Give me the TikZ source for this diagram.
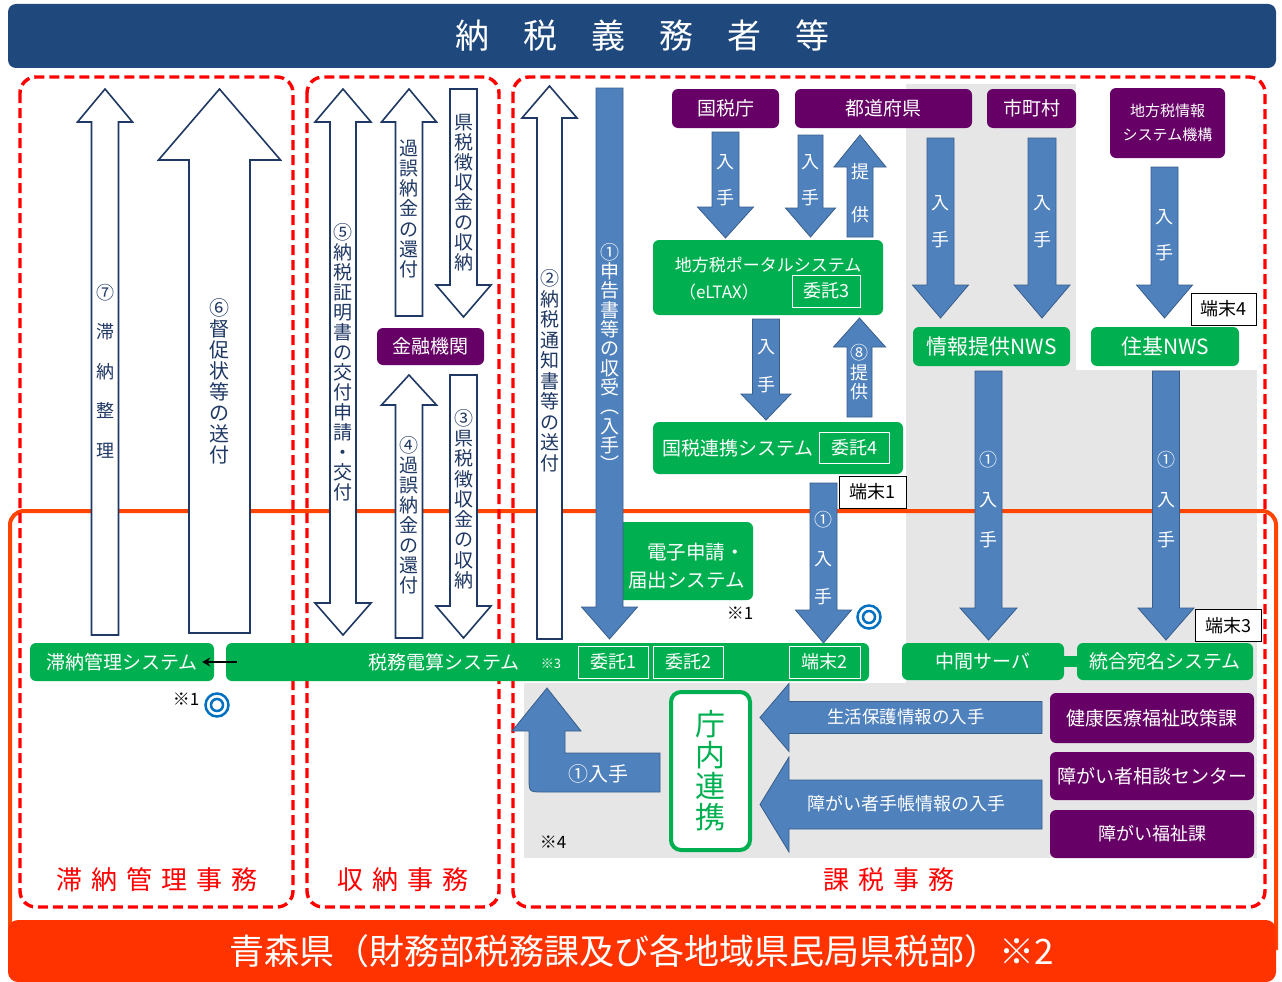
\documentclass[tikz,border=0pt]{standalone}
\usepackage{fontspec}
\setmainfont{Noto Sans CJK JP}
\usetikzlibrary{arrows.meta}

\definecolor{navybar}{RGB}{31,73,125}
\definecolor{navyline}{RGB}{31,56,100}
\definecolor{redarea}{RGB}{255,0,0}
\definecolor{frameorange}{RGB}{255,69,0}
\definecolor{bannerorange}{RGB}{255,51,0}
\definecolor{boxgreen}{RGB}{0,176,80}
\definecolor{boxpurple}{RGB}{102,0,102}
\definecolor{arrblue}{RGB}{79,129,189}
\definecolor{arrline}{RGB}{56,93,138}
\definecolor{panelgray}{RGB}{230,230,230}
\definecolor{markblue}{RGB}{0,112,192}

\newcommand{\fsz}[2]{\fontsize{#1}{#2}\selectfont\lineskiplimit=-50pt\relax}
% block arrows, pixel coordinates: {cx}{shaft half}{head half}{...}
\newcommand{\blockup}[7][]{%
  \draw[#1] (#2-#3,#7) -- (#2-#3,#6) -- (#2-#4,#6) -- (#2,#5) -- (#2+#4,#6) -- (#2+#3,#6) -- (#2+#3,#7) -- cycle;}
\newcommand{\blockdown}[7][]{%
  \draw[#1] (#2-#3,#5) -- (#2-#3,#6) -- (#2-#4,#6) -- (#2,#7) -- (#2+#4,#6) -- (#2+#3,#6) -- (#2+#3,#5) -- cycle;}
\newcommand{\blockboth}[8][]{%
  \draw[#1] (#2-#3,#6) -- (#2-#4,#6) -- (#2,#5) -- (#2+#4,#6) -- (#2+#3,#6) -- (#2+#3,#7) -- (#2+#4,#7) -- (#2,#8) -- (#2-#4,#7) -- (#2-#3,#7) -- cycle;}
\newcommand{\blockleft}[7][]{%
  \draw[#1] (#2,#3) -- (#5,#3-#6) -- (#5,#3-#4) -- (#7,#3-#4) -- (#7,#3+#4) -- (#5,#3+#4) -- (#5,#3+#6) -- cycle;}

\begin{document}
\begin{tikzpicture}[x=1pt,y=-1pt,
    workarea/.style={draw=redarea, line width=3.4pt, dash pattern=on 10pt off 5pt, rounded corners=16pt},
    areaname/.style={text=redarea, font=\fsz{26}{30}, inner sep=0pt},
    whitearr/.style={fill=white, draw=navyline, line width=1.6pt},
    bluearr/.style={fill=arrblue, draw=arrline, line width=0.8pt},
    greenbox/.style={fill=boxgreen, rounded corners=6pt, text=white, minimum height=38pt, font=\fsz{19}{24}, inner sep=0pt},
    purplebox/.style={fill=boxpurple, rounded corners=6pt, text=white, minimum height=39pt, font=\fsz{19}{24}, inner sep=0pt},
    subbox/.style={draw=white, line width=0.7pt, text=white, minimum width=70pt, minimum height=32pt, font=\fsz{18}{22}, inner sep=0pt},
    tagbox/.style={draw=black, line width=0.6pt, fill=white, minimum width=66pt, minimum height=32pt, font=\fsz{18}{22}, inner sep=0pt},
    vnavy/.style={text=navyline, align=center, inner sep=0pt},
    vwhite/.style={text=white, align=center, inner sep=0pt},
    plain/.style={text=white, inner sep=0pt},
    note/.style={font=\fsz{17}{19}, inner sep=0pt},
    ring/.style={draw=markblue, line width=2.5pt}]
  \useasboundingbox (0,0) rectangle (1282,982);
  \fill[white] (0,0) rectangle (1282,982);
  %
  \fill[panelgray] (906,84) rectangle (1076,683);
  \fill[panelgray] (1076,370) rectangle (1257,683);
  \fill[panelgray] (524,683) rectangle (1257,858);
  \draw[frameorange, line width=4pt, rounded corners=14pt] (10,950) -- (10,511) -- (1276,511) -- (1276,950);
  %
  \draw[workarea] (20,77) rectangle (293,907);
  \draw[workarea] (307,77) rectangle (499,907);
  \draw[workarea] (513,77) rectangle (1265,907);
  \node[areaname] (arrearswork) at (157,880) {滞\hspace{9pt}納\hspace{9pt}管\hspace{9pt}理\hspace{9pt}事\hspace{9pt}務};
  \node[areaname] (receiptwork) at (403,880) {収\hspace{9pt}納\hspace{9pt}事\hspace{9pt}務};
  \node[areaname] (assesswork) at (889,880) {課\hspace{9pt}税\hspace{9pt}事\hspace{9pt}務};
  %
  \node[fill=navybar, rounded corners=8pt, minimum width=1268pt, minimum height=64pt, text=white, font=\fsz{34}{38}, inner sep=0pt] (payers) at (642,36) {納\quad 税\quad 義\quad 務\quad 者\quad 等};
  \node[fill=bannerorange, rounded corners=10pt, minimum width=1268pt, minimum height=62pt, text=white, font=\fsz{35}{40}, inner sep=0pt] (aomori) at (642,951) {青森県（財務部税務課及び各地域県民局県税部）※2};
  %
  % white arrows
  \blockup[whitearr]{105}{13.5}{27.5}{89}{122}{635}
  \blockup[whitearr]{219.5}{30.5}{61}{89}{160}{633}
  \blockboth[whitearr]{343}{13}{28}{89}{122}{603}{635}
  \blockup[whitearr]{409}{13.5}{27.5}{89}{122}{316}
  \blockdown[whitearr]{463.5}{13.5}{27.5}{89}{285}{317}
  \blockup[whitearr]{409}{13.5}{27.5}{375}{405}{638}
  \blockdown[whitearr]{463.5}{13.5}{27.5}{375}{606}{638}
  \blockup[whitearr]{549.5}{12.5}{27.5}{86}{118}{639}
  \node[vnavy, font=\fsz{18}{39.5}] (t7) at (105,371) {⑦\\滞\\納\\整\\理};
  \node[vnavy, font=\fsz{20}{21}] (t6) at (219.5,381.5) {⑥\\督\\促\\状\\等\\の\\送\\付};
  \node[vnavy, font=\fsz{19}{20}] (t5) at (343,362.5) {⑤\\納\\税\\証\\明\\書\\の\\交\\付\\申\\請\\・\\交\\付};
  \node[vnavy, font=\fsz{19}{20.3}] (trefund) at (409,209) {過\\誤\\納\\金\\の\\還\\付};
  \node[vnavy, font=\fsz{19}{20}] (tcollect) at (463.5,193) {県\\税\\徴\\収\\金\\の\\収\\納};
  \node[vnavy, font=\fsz{19}{20}] (t4) at (409,515) {④\\過\\誤\\納\\金\\の\\還\\付};
  \node[vnavy, font=\fsz{19}{20.25}] (t3) at (463.5,499) {③\\県\\税\\徴\\収\\金\\の\\収\\納};
  \node[vnavy, font=\fsz{19}{20.5}] (t2) at (549.5,370.5) {②\\納\\税\\通\\知\\書\\等\\の\\送\\付};
  %
  \node[purplebox, minimum width=107pt, minimum height=37pt] (bank) at (430.5,346.5) {金融機関};
  %
  % e-application box sits under arrow 1
  \node[greenbox, minimum width=138pt, minimum height=78pt] (eapp) at (684,561) {};
  \node[plain, align=right, font=\fsz{19.5}{28}, anchor=east] (eappname) at (745,566) {電子申請・\\届出システム};
  %
  % blue arrows
  \blockdown[bluearr]{609.5}{13.5}{28}{88}{607}{639}
  \blockdown[bluearr]{725.5}{13.5}{28}{132}{207}{238}
  \blockdown[bluearr]{810.5}{12.5}{25}{135}{208}{237}
  \blockup[bluearr]{860}{13}{26}{135}{167}{237}
  \blockdown[bluearr]{766}{13.5}{25}{319}{394}{420}
  \blockup[bluearr]{859.5}{12.5}{26}{318}{347}{417}
  \blockdown[bluearr]{823.5}{13.5}{28}{483}{610}{643}
  \blockdown[bluearr]{940.5}{13.5}{28}{138}{285}{318}
  \blockdown[bluearr]{1042}{14}{28}{138}{285}{318}
  \blockdown[bluearr]{1164.5}{13.5}{28}{167}{285}{318}
  \blockdown[bluearr]{988.5}{13.5}{28.5}{371}{608}{640}
  \blockdown[bluearr]{1166}{13.5}{28}{371}{608}{640}
  \blockleft[bluearr]{760}{717.5}{16}{789}{34}{1042}
  \blockleft[bluearr]{760}{804.5}{24.5}{789}{47.5}{1042}
  \draw[bluearr] (660,753) -- (565,753) -- (565,731) -- (581,731) -- (547,688) -- (512,731) -- (529,731)
    -- (529,778) .. controls (529,792) .. (543,792) -- (660,792) -- cycle;
  \node[vwhite, font=\fsz{19}{19.3}] (t1) at (609.5,357.5) {①\\申\\告\\書\\等\\の\\収\\受\\︵\\入\\手\\︶};
  \node[vwhite, font=\fsz{18}{36}] (getnta) at (725.5,180) {入\\手};
  \node[vwhite, font=\fsz{18}{36}] (getpref) at (810.5,180) {入\\手};
  \node[vwhite, font=\fsz{18}{43}] (givepref) at (860,193.5) {提\\供};
  \node[vwhite, font=\fsz{18}{38}] (getportal) at (766,366) {入\\手};
  \node[vwhite, font=\fsz{18}{19.5}] (give8) at (859.5,372.5) {⑧\\提\\供};
  \node[vwhite, font=\fsz{18}{38.5}] (getnfl) at (823.5,558.5) {①\\入\\手};
  \node[vwhite, font=\fsz{18}{37}] (getpref2) at (940.5,221.5) {入\\手};
  \node[vwhite, font=\fsz{18}{37}] (getmuni) at (1042,221.5) {入\\手};
  \node[vwhite, font=\fsz{18}{36}] (getjlis) at (1164.5,235) {入\\手};
  \node[vwhite, font=\fsz{18}{40}] (getnws) at (988.5,500) {①\\入\\手};
  \node[vwhite, font=\fsz{18}{40}] (getjuki) at (1166,500) {①\\入\\手};
  \node[plain, font=\fsz{20}{24}] (getone) at (598,774) {①入手};
  \node[plain, font=\fsz{17.5}{20}] (welfare) at (906,717) {生活保護情報の入手};
  \node[plain, font=\fsz{18}{20}] (handbook) at (906,804) {障がい者手帳情報の入手};
  %
  % senders
  \node[purplebox, minimum width=107pt] (nta) at (725.5,108.5) {国税庁};
  \node[purplebox, minimum width=177pt] (pref) at (883.5,108.5) {都道府県};
  \node[purplebox, minimum width=89pt] (muni) at (1031.5,108.5) {市町村};
  \node[purplebox, minimum width=115pt, minimum height=70pt, align=center, font=\fsz{15}{24}] (jlis) at (1167.5,123) {地方税情報\\システム機構};
  \node[purplebox, minimum width=204pt, minimum height=50pt] (health) at (1152,718) {健康医療福祉政策課};
  \node[purplebox, minimum width=204pt, minimum height=48pt] (consult) at (1152,776) {障がい者相談センター};
  \node[purplebox, minimum width=204pt, minimum height=48pt, font=\fsz{18}{22}] (disab) at (1152,834) {障がい福祉課};
  %
  % systems
  \node[greenbox, minimum width=230pt, minimum height=75pt] (eltax) at (768,277.5) {};
  \node[plain, font=\fsz{17}{20}] (eltaxname) at (768,265) {地方税ポータルシステム};
  \node[plain, font=\fsz{17}{20}] (eltaxabbr) at (719,292) {（eLTAX）};
  \node[subbox, minimum width=68pt] (itaku3) at (826,291) {委託3};
  \node[greenbox, minimum width=250pt, minimum height=52pt] (nfl) at (778,448) {};
  \node[plain, font=\fsz{19}{22}] (nflname) at (738,448) {国税連携システム};
  \node[subbox, minimum height=31pt] (itaku4) at (854,447.5) {委託4};
  \node[greenbox, minimum width=157pt, minimum height=39pt, font=\fsz{21}{24}] (infonws) at (991.5,346.5) {情報提供NWS};
  \node[greenbox, minimum width=148pt, minimum height=39pt, font=\fsz{21}{24}] (jukinws) at (1165,346.5) {住基NWS};
  \node[greenbox, minimum width=162pt, minimum height=37pt] (midsrv) at (983,661.5) {中間サーバ};
  \node[greenbox, minimum width=176pt, minimum height=37pt] (atena) at (1165,661.5) {統合宛名システム};
  \draw[boxgreen, line width=11pt] (midsrv.east) -- (atena.west);
  \node[greenbox, minimum width=643pt] (tax) at (547.5,662) {};
  \node[plain, font=\fsz{19}{22}] (taxname) at (444,662) {税務電算システム};
  \node[plain, font=\fsz{13}{15}] (note3) at (551,664) {※3};
  \node[subbox] (itaku1) at (613,662) {委託1};
  \node[subbox] (itaku2) at (688,662) {委託2};
  \node[subbox, minimum width=71pt] (term2) at (824.5,662) {端末2};
  \node[greenbox, minimum width=184pt] (arrears) at (122,662) {滞納管理システム};
  \draw[-{Stealth[length=8pt,width=9pt]}, line width=2pt] ([xshift=11pt]tax.west) -- ([xshift=-12pt]arrears.east);
  \node[draw=boxgreen, line width=4pt, rounded corners=10pt, fill=white, minimum width=79pt, minimum height=158pt, text=boxgreen, align=center, font=\fsz{30}{31}, inner sep=0pt] (liaison) at (710.5,771) {庁\\内\\連\\携};
  %
  \node[tagbox, minimum width=67pt] (term1) at (872.5,492) {端末1};
  \node[tagbox] (term3) at (1228,625.5) {端末3};
  \node[tagbox, minimum width=65pt] (term4) at (1223.5,309) {端末4};
  \node[note] (note1a) at (186,699) {※1};
  \node[note] (note1b) at (740,613) {※1};
  \node[note] (note4) at (553,842) {※4};
  \draw[ring] (217,705) circle (11.5pt) (217,705) circle (6pt);
  \draw[ring] (869,617) circle (11.5pt) (869,617) circle (6pt);
\end{tikzpicture}
\end{document}
